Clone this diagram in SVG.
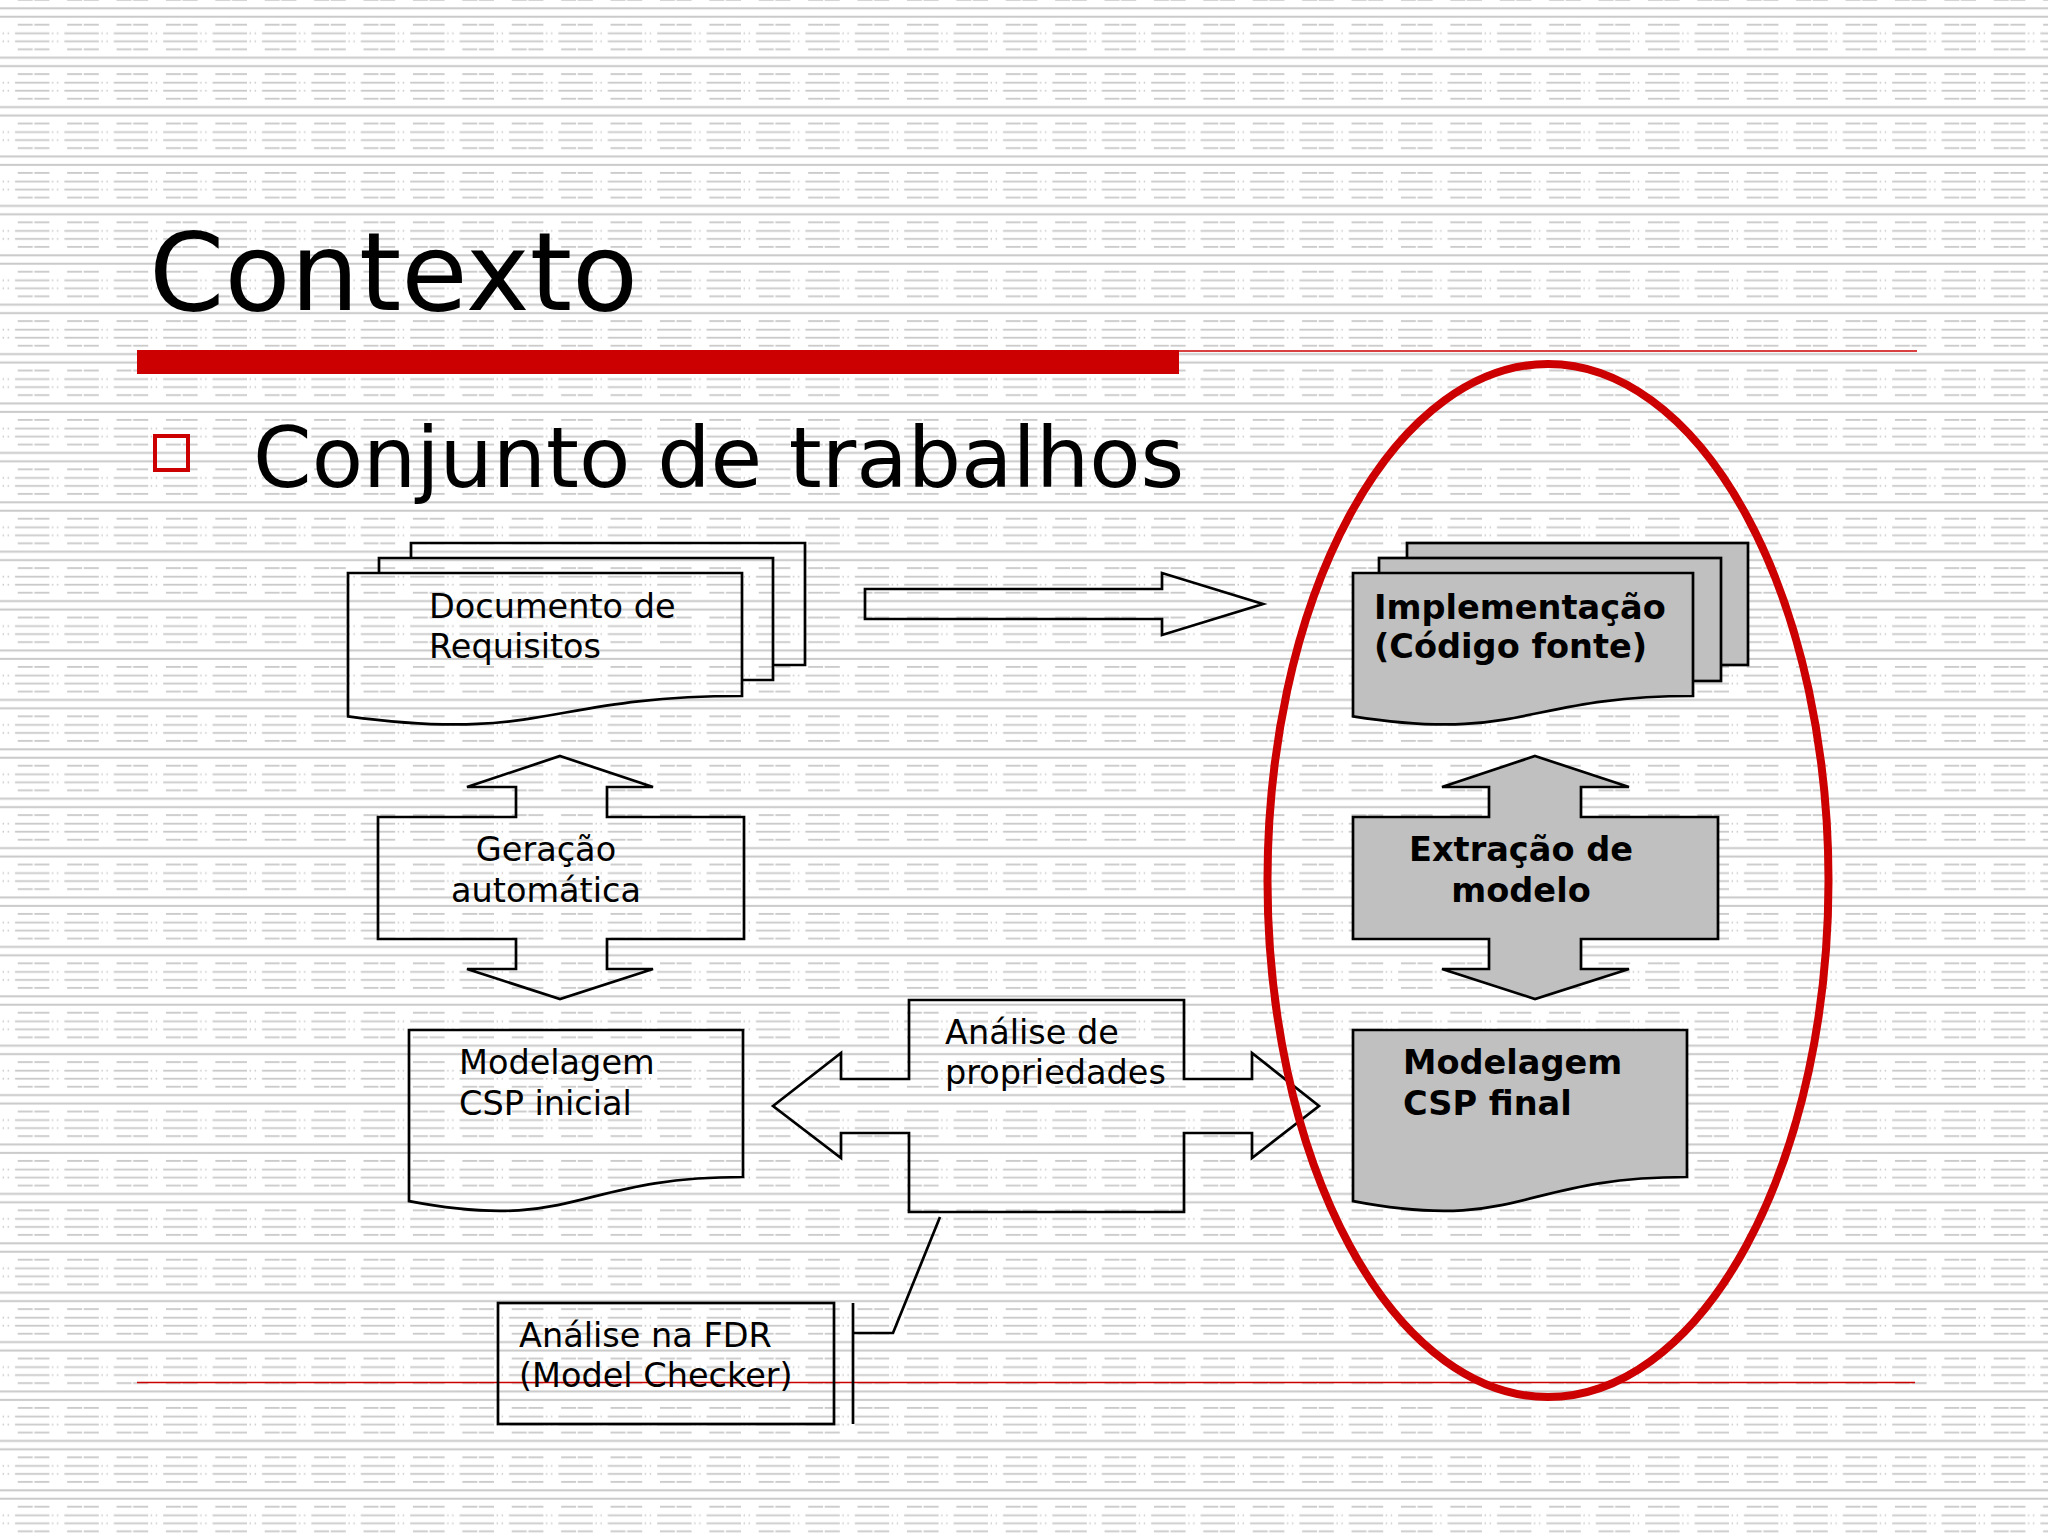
<svg xmlns="http://www.w3.org/2000/svg" width="2048" height="1536" viewBox="0 0 2048 1536">
<defs>
<pattern id="bg" patternUnits="userSpaceOnUse" x="0" y="4" width="49.4" height="49.4">
<g fill="#c9c9c9">
<rect x="0" y="3.3" width="49.4" height="2"/>
<rect x="0" y="11.7" width="49.4" height="2"/>
<rect x="17.7" y="19.8" width="15" height="1.8"/>
<rect x="34.3" y="19.8" width="15.1" height="1.8"/>
<rect x="2.6" y="28.4" width="1.4" height="1.8"/>
<rect x="7.6" y="28.4" width="1.4" height="1.8"/>
<rect x="15" y="28.4" width="34.4" height="1.8"/>
<rect x="2.6" y="36.4" width="1.4" height="1.8"/>
<rect x="7.6" y="36.4" width="1.4" height="1.8"/>
<rect x="15" y="36.4" width="34.4" height="1.8"/>
<rect x="17.7" y="44.4" width="15" height="1.8"/>
<rect x="34.3" y="44.4" width="15.1" height="1.8"/>
</g>
</pattern>
</defs>
<style>
.ol{fill:none;stroke:#000;stroke-width:2.7;stroke-linejoin:miter}
.gr{fill:#c0c0c0;stroke:#000;stroke-width:2.7;stroke-linejoin:miter}
.t{font-family:"DejaVu Sans",Verdana,sans-serif;font-size:33.5px;fill:#000}
.b{font-family:"DejaVu Sans",Verdana,sans-serif;font-size:33.6px;font-weight:bold;fill:#000}
.red{fill:none;stroke:#cc0000}
</style>
<rect x="0" y="0" width="2048" height="1536" fill="#fff"/>
<rect x="0" y="0" width="2048" height="1536" fill="url(#bg)"/>

<g id="title">
<text x="149" y="310" font-family="DejaVu Sans, Verdana, sans-serif" font-size="108" fill="#000">Contexto</text>
<rect x="137" y="350" width="1042" height="24" fill="#cc0000"/>
<line class="red" x1="1179" y1="351" x2="1917" y2="351" stroke-width="1.5"/>
<line class="red" x1="137" y1="1382.5" x2="1915" y2="1382.5" stroke-width="1.3"/>
</g>

<g id="bullet">
<rect x="155" y="436" width="33" height="34" fill="none" stroke="#cc0000" stroke-width="4"/>
<text x="253" y="487" font-family="DejaVu Sans, Verdana, sans-serif" font-size="84" fill="#000">Conjunto de trabalhos</text>
</g>

<g id="doc-requisitos">
<path class="ol" d="M411,558 V543 H805 V665 H773"/>
<path class="ol" d="M379,573 V558 H773 V680 H742"/>
<path class="ol" d="M348,573 H742 V696 C545,696 545,743 348,716.3 Z"/>
<text class="t" x="429" y="618">Documento de</text>
<text class="t" x="429" y="658">Requisitos</text>
</g>

<g id="implementacao">
<rect class="gr" x="1407" y="543" width="341" height="122"/>
<rect class="gr" x="1379" y="558" width="342" height="123"/>
<path class="gr" d="M1353,573 H1693 V696 C1523,696 1523,743 1353,716.3 Z"/>
<text class="b" x="1374" y="619">Implementação</text>
<text class="b" x="1374" y="658">(Código fonte)</text>
</g>

<g id="geracao">
<path class="ol" d="M560,756 L653,787 L607,787 L607,817 L744,817 L744,939 L607,939 L607,969 L653,969 L560,999 L467,969 L516,969 L516,939 L378,939 L378,817 L516,817 L516,787 L467,787 Z"/>
<text class="t" x="546" y="861" text-anchor="middle">Geração</text>
<text class="t" x="546" y="902" text-anchor="middle">automática</text>
</g>

<g id="extracao">
<path class="gr" d="M1535,756 L1629,787 L1581,787 L1581,817 L1718,817 L1718,939 L1581,939 L1581,969 L1629,969 L1535,999 L1442,969 L1489,969 L1489,939 L1353,939 L1353,817 L1489,817 L1489,787 L1442,787 Z"/>
<text class="b" x="1521" y="861" text-anchor="middle">Extração de</text>
<text class="b" x="1521" y="902" text-anchor="middle">modelo</text>
</g>

<g id="csp-inicial">
<path class="ol" d="M409,1030 H743 V1177 C576,1177 576,1233 409,1201.2 Z"/>
<text class="t" x="459" y="1074">Modelagem</text>
<text class="t" x="459" y="1115">CSP inicial</text>
</g>

<g id="csp-final">
<path class="gr" d="M1353,1030 H1687 V1177 C1520,1177 1520,1233 1353,1201.2 Z"/>
<text class="b" x="1403" y="1074">Modelagem</text>
<text class="b" x="1403" y="1115">CSP final</text>
</g>

<g id="analise-propriedades">
<path class="ol" d="M773,1106 L841,1053 L841,1079 L909,1079 L909,1000 L1184,1000 L1184,1079 L1252,1079 L1252,1053 L1319,1106 L1252,1158 L1252,1133 L1184,1133 L1184,1212 L909,1212 L909,1133 L841,1133 L841,1158 Z"/>
<text class="t" x="945" y="1044">Análise de</text>
<text class="t" x="945" y="1084">propriedades</text>
</g>

<g id="analise-fdr">
<rect class="ol" x="498" y="1303" width="336" height="121"/>
<text class="t" x="519" y="1347">Análise na FDR</text>
<text class="t" x="519" y="1387">(Model Checker)</text>
</g>

<g id="connectors">
<path class="ol" d="M865,589 H1162 V573 L1263,604 L1162,635 V619 H865 Z"/>
<path class="ol" d="M853,1303 V1424"/>
<path class="ol" d="M853,1333 H893 L940,1217"/>
</g>

<g id="highlight">
<ellipse class="red" cx="1548" cy="880.5" rx="280.5" ry="516.5" stroke-width="8"/>
</g>
</svg>
